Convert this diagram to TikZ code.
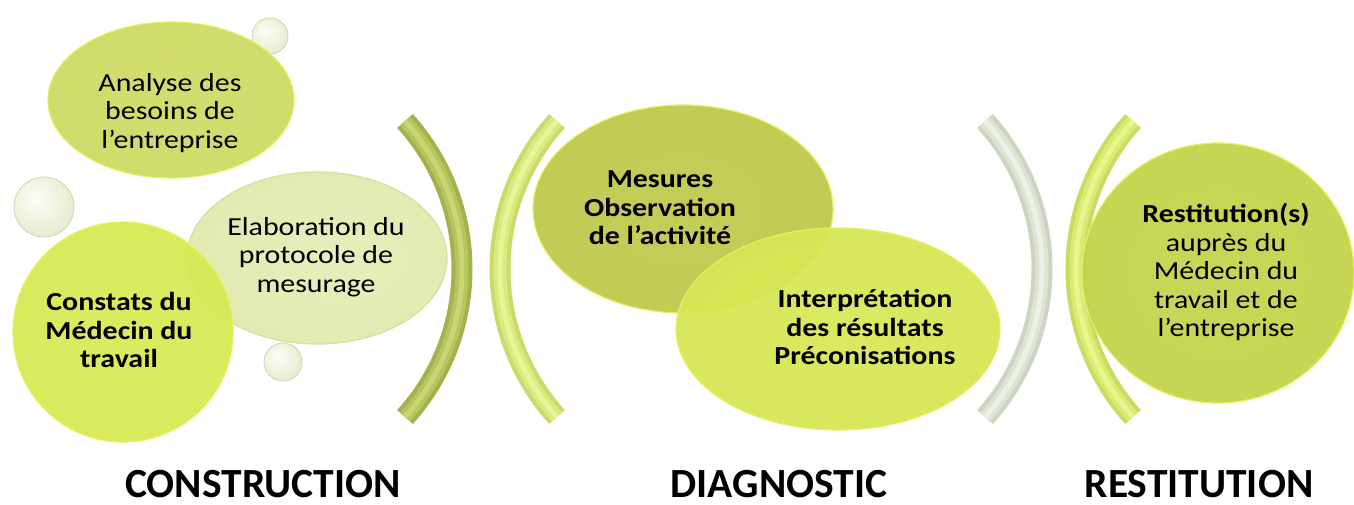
\documentclass[tikz,border=0pt]{standalone}
\usepackage{fontspec}
\setmainfont{Carlito}
\newfontfamily\bodyfont[FakeStretch=1.15]{Carlito}
\usetikzlibrary{shapes.geometric}

% radial shadings (core, darker edge, bright rim)
\pgfdeclareradialshading{shAnalyse}{\pgfpoint{0bp}{0bp}}{rgb(0bp)=(0.81,0.86,0.40); rgb(36bp)=(0.80,0.85,0.38); rgb(46bp)=(0.74,0.79,0.32); rgb(49bp)=(0.86,0.91,0.36); rgb(50bp)=(0.92,0.95,0.44)}
\pgfdeclareradialshading{shElab}{\pgfpoint{6bp}{0bp}}{rgb(0bp)=(0.90,0.93,0.72); rgb(34bp)=(0.87,0.91,0.66); rgb(46bp)=(0.81,0.85,0.57); rgb(49bp)=(0.87,0.90,0.66); rgb(50bp)=(0.92,0.94,0.74)}
\pgfdeclareradialshading{shConstats}{\pgfpoint{0bp}{0bp}}{rgb(0bp)=(0.85,0.92,0.34); rgb(36bp)=(0.84,0.91,0.32); rgb(46bp)=(0.78,0.86,0.26); rgb(49bp)=(0.90,0.96,0.34); rgb(50bp)=(0.94,0.98,0.42)}
\pgfdeclareradialshading{shMesures}{\pgfpoint{0bp}{0bp}}{rgb(0bp)=(0.75,0.79,0.30); rgb(36bp)=(0.74,0.78,0.28); rgb(46bp)=(0.68,0.72,0.22); rgb(49bp)=(0.83,0.89,0.30); rgb(50bp)=(0.90,0.94,0.38)}
\pgfdeclareradialshading{shInterp}{\pgfpoint{0bp}{0bp}}{rgb(0bp)=(0.85,0.91,0.34); rgb(36bp)=(0.84,0.90,0.32); rgb(46bp)=(0.78,0.85,0.24); rgb(49bp)=(0.91,0.96,0.34); rgb(50bp)=(0.95,0.98,0.42)}
\pgfdeclareradialshading{shRestit}{\pgfpoint{0bp}{0bp}}{rgb(0bp)=(0.77,0.83,0.30); rgb(36bp)=(0.76,0.82,0.28); rgb(46bp)=(0.70,0.76,0.22); rgb(49bp)=(0.87,0.93,0.30); rgb(50bp)=(0.93,0.96,0.38)}
\pgfdeclareradialshading{shBubble}{\pgfpoint{-8bp}{8bp}}{rgb(0bp)=(0.99,0.99,0.97); rgb(20bp)=(0.93,0.95,0.86); rgb(44bp)=(0.85,0.88,0.74); rgb(50bp)=(0.80,0.84,0.68)}

\definecolor{rimA}{rgb}{0.90,0.94,0.38}
\definecolor{rimE}{rgb}{0.84,0.87,0.64}
\definecolor{rimB}{rgb}{0.80,0.84,0.70}
% arc colours
\definecolor{arcOneE}{rgb}{0.64,0.70,0.30}
\definecolor{arcOneM}{rgb}{0.72,0.77,0.37}
\definecolor{arcOneH}{rgb}{0.79,0.84,0.45}
\definecolor{arcTwoE}{rgb}{0.79,0.86,0.42}
\definecolor{arcTwoM}{rgb}{0.85,0.92,0.50}
\definecolor{arcTwoH}{rgb}{0.91,0.96,0.58}
\definecolor{arcThreeE}{rgb}{0.80,0.83,0.76}
\definecolor{arcThreeM}{rgb}{0.87,0.89,0.83}
\definecolor{arcThreeH}{rgb}{0.93,0.94,0.90}
\definecolor{arcFourE}{rgb}{0.79,0.86,0.38}
\definecolor{arcFourM}{rgb}{0.85,0.92,0.46}
\definecolor{arcFourH}{rgb}{0.91,0.96,0.54}

\begin{document}
\begin{tikzpicture}[x=1pt,y=-1pt,
  blob/.style={ellipse, inner sep=0pt, shade, draw=rimA, line width=1.2pt, fill opacity=0.94},
  bubble/.style={circle, inner sep=0pt, shade, shading=shBubble, draw=rimB, line width=0.8pt},
  txt/.style={align=center, inner sep=0pt, text=black, font=\bodyfont\fontsize{26}{28.5}\selectfont},
  btxt/.style={txt, font=\bodyfont\bfseries\fontsize{26}{28.5}\selectfont},
  title/.style={anchor=base, inner sep=0pt, text=black, font=\bfseries\fontsize{41.5}{43}\selectfont},
  arcband/.style={line width=21pt, line cap=butt},
  arcmid/.style={line width=13pt, line cap=butt},
  archigh/.style={line width=5pt, line cap=butt}
]
\useasboundingbox (0,0) rectangle (1354,504);

% ---------------- CONSTRUCTION ----------------
\node[bubble, minimum size=36pt] (bubtop) at (270,36) {};
\node[bubble, minimum size=60pt] (bubleft) at (44,207) {};
\node[blob, shading=shAnalyse, minimum width=246pt, minimum height=156pt] (analyse) at (171,100) {};
\node[blob, shading=shElab, draw=rimE, minimum width=260pt, minimum height=172pt] (elab) at (317,258) {};
\node[blob, shading=shConstats, minimum width=220pt, minimum height=220pt] (constats) at (123,332) {};
\node[bubble, minimum size=38pt] (bubbot) at (283,362) {};

\node[txt] (tanalyse) at (170,113) {Analyse des\\besoins de\\l’entreprise};
\node[txt] (telab) at (316,257) {Elaboration du\\protocole de\\mesurage};
\node[btxt] (tconstats) at (119,330) {Constats du\\Médecin du\\travail};

% ---------------- brackets ----------------
\coordinate (aonet) at (405,121);
\coordinate (aoneb) at (405,417);
\coordinate (atwot) at (557,121);
\coordinate (atwob) at (557,417);
\coordinate (athreet) at (985,121);
\coordinate (athreeb) at (985,417);
\coordinate (afourt) at (1133,121);
\coordinate (afourb) at (1133,417);

\draw[arcband, draw=arcOneE] (aonet) .. controls (481,205) and (481,333) .. (aoneb);
\draw[arcmid, draw=arcOneM] (aonet) .. controls (481,205) and (481,333) .. (aoneb);
\draw[archigh, draw=arcOneH] (aonet) .. controls (481,205) and (481,333) .. (aoneb);

\draw[arcband, draw=arcTwoE] (atwot) .. controls (481,205) and (481,333) .. (atwob);
\draw[arcmid, draw=arcTwoM] (atwot) .. controls (481,205) and (481,333) .. (atwob);
\draw[archigh, draw=arcTwoH] (atwot) .. controls (481,205) and (481,333) .. (atwob);

\draw[arcband, draw=arcThreeE] (athreet) .. controls (1061,205) and (1061,333) .. (athreeb);
\draw[arcmid, draw=arcThreeM] (athreet) .. controls (1061,205) and (1061,333) .. (athreeb);
\draw[archigh, draw=arcThreeH] (athreet) .. controls (1061,205) and (1061,333) .. (athreeb);

\draw[arcband, draw=arcFourE] (afourt) .. controls (1057,205) and (1057,333) .. (afourb);
\draw[arcmid, draw=arcFourM] (afourt) .. controls (1057,205) and (1057,333) .. (afourb);
\draw[archigh, draw=arcFourH] (afourt) .. controls (1057,205) and (1057,333) .. (afourb);

% ---------------- DIAGNOSTIC ----------------
\node[blob, shading=shMesures, minimum width=300pt, minimum height=208pt] (mesures) at (683,209) {};
\node[blob, shading=shInterp, minimum width=324pt, minimum height=202pt] (interp) at (838,329) {};
\node[btxt] (tmesures) at (660,208) {Mesures\\Observation\\de l’activité};
\node[btxt] (tinterp) at (865,327) {Interprétation\\des résultats\\Préconisations};

% ---------------- RESTITUTION ----------------
\node[blob, shading=shRestit, minimum width=272pt, minimum height=260pt] (restit) at (1218,273) {};
\node[txt] (trestit) at (1226,272) {\textbf{Restitution(s)}\\auprès du\\Médecin du\\travail et de\\l’entreprise};

% ---------------- titles ----------------
\node[title] (hconstr) at (263,497) {CONSTRUCTION};
\node[title] (hdiag) at (779,497) {DIAGNOSTIC};
\node[title] (hrestit) at (1199,497) {RESTITUTION};
\end{tikzpicture}
\end{document}
